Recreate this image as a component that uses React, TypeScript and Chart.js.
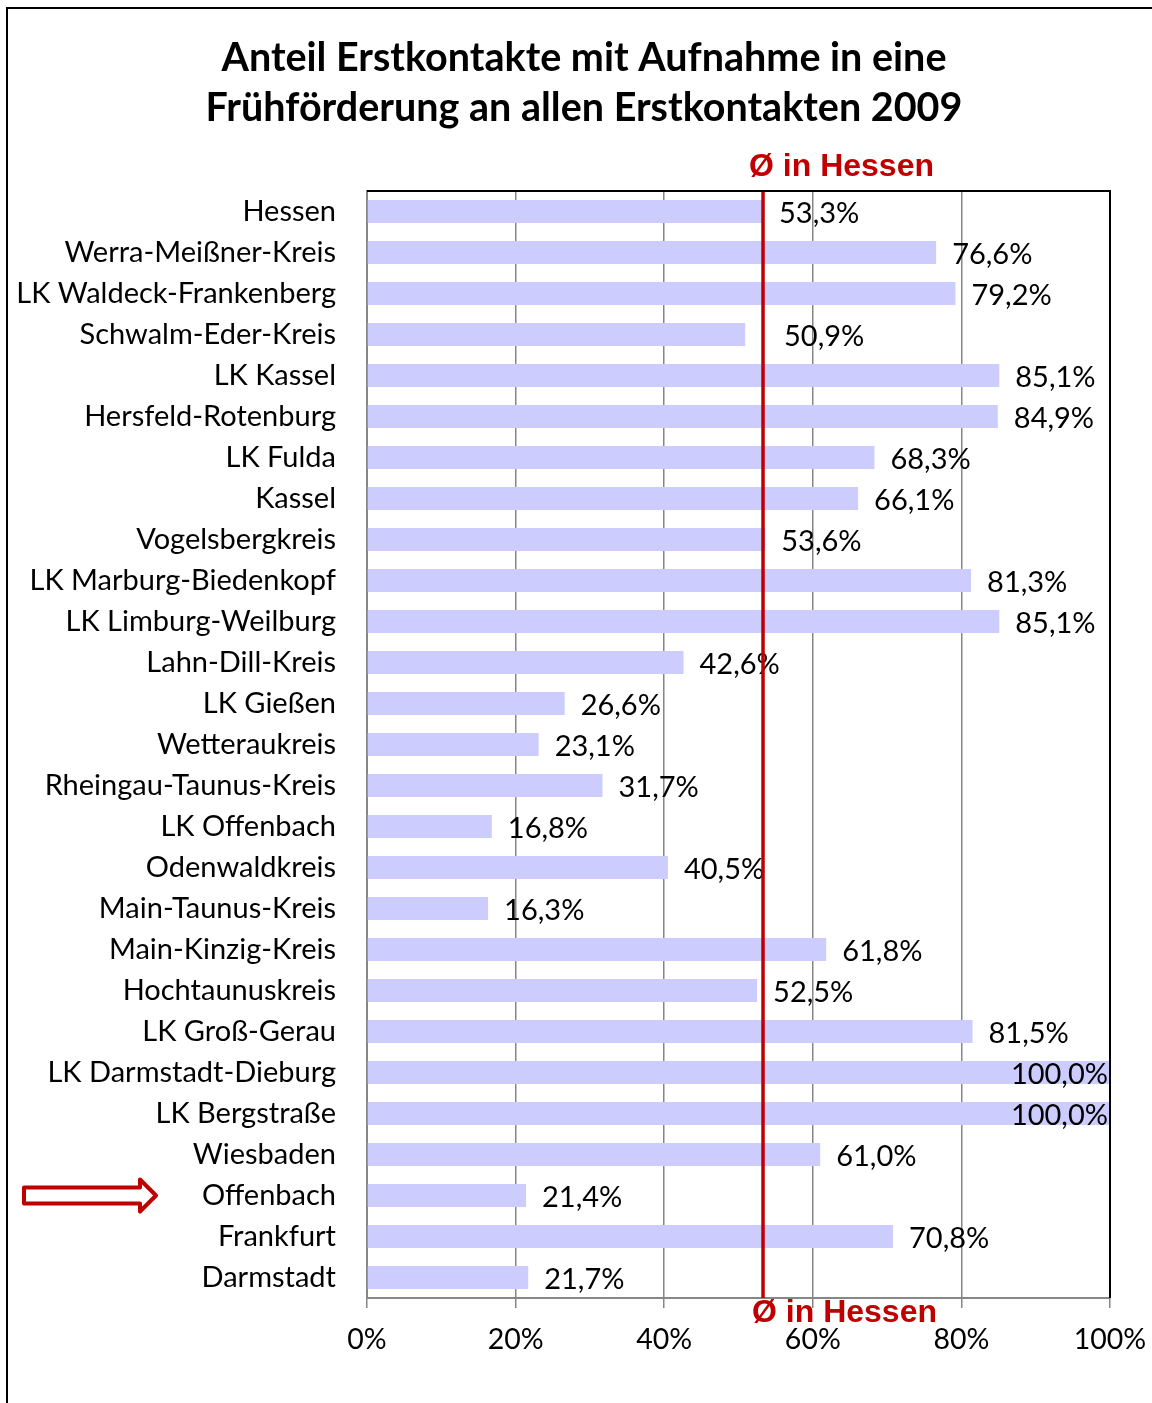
import React, { useEffect, useRef } from "react";
import { Chart, registerables } from "chart.js";

Chart.register(...registerables);

const categories: string[] = [
  "Hessen",
  "Werra-Meißner-Kreis",
  "LK Waldeck-Frankenberg",
  "Schwalm-Eder-Kreis",
  "LK Kassel",
  "Hersfeld-Rotenburg",
  "LK Fulda",
  "Kassel",
  "Vogelsbergkreis",
  "LK Marburg-Biedenkopf",
  "LK Limburg-Weilburg",
  "Lahn-Dill-Kreis",
  "LK Gießen",
  "Wetteraukreis",
  "Rheingau-Taunus-Kreis",
  "LK Offenbach",
  "Odenwaldkreis",
  "Main-Taunus-Kreis",
  "Main-Kinzig-Kreis",
  "Hochtaunuskreis",
  "LK Groß-Gerau",
  "LK Darmstadt-Dieburg",
  "LK Bergstraße",
  "Wiesbaden",
  "Offenbach",
  "Frankfurt",
  "Darmstadt",
];

const shares: number[] = [
  53.3, 76.6, 79.2, 50.9, 85.1, 84.9, 68.3, 66.1, 53.6, 81.3, 85.1, 42.6, 26.6,
  23.1, 31.7, 16.8, 40.5, 16.3, 61.8, 52.5, 81.5, 100.0, 100.0, 61.0, 21.4,
  70.8, 21.7,
];

const hessenAverage = 53.3;
const highlighted = "Offenbach";
const xTicks: number[] = [0, 20, 40, 60, 80, 100];
const titleLines: string[] = [
  "Anteil Erstkontakte mit Aufnahme in eine",
  "Frühförderung an allen Erstkontakten 2009",
];
const averageLabel = "Ø in Hessen";

const RED = "#c00000";
const GRID = "#868686";
const FONT = "Lato";

const fmt = (v: number) => v.toFixed(1).replace(".", ",") + "%";

const overlayPlugin = {
  id: "overlay",
  afterDatasetsDraw(chart: any) {
    const ctx = chart.ctx;
    const area = chart.chartArea;
    const xs = chart.scales.x;
    const meta = chart.getDatasetMeta(0);
    const lx = xs.getPixelForValue(hessenAverage);
    ctx.save();
    ctx.font = `29px ${FONT}`;
    ctx.fillStyle = "#000";
    ctx.textBaseline = "middle";
    meta.data.forEach((el: any, i: number) => {
      const v = shares[i];
      const txt = fmt(v);
      if (v >= 99.95) {
        ctx.textAlign = "right";
        ctx.fillText(txt, el.x - 2, el.y + 2);
      } else {
        ctx.textAlign = "left";
        let sx = el.x + 16;
        // keep labels of bars ending just before the average line clear of it
        if (el.x < lx && el.x > lx - 30 && sx < lx + 8) sx = lx + 21;
        ctx.fillText(txt, sx, el.y + 2);
      }
    });
    ctx.restore();
    ctx.save();
    ctx.strokeStyle = RED;
    ctx.lineWidth = 3.5;
    ctx.beginPath();
    ctx.moveTo(lx, area.top);
    ctx.lineTo(lx, area.bottom);
    ctx.stroke();
    ctx.restore();
  },
  afterDraw(chart: any) {
    const ctx = chart.ctx;
    const area = chart.chartArea;
    const xs = chart.scales.x;
    const ys = chart.scales.y;
    ctx.save();
    ctx.strokeStyle = "#000";
    ctx.lineWidth = 2;
    ctx.beginPath();
    ctx.moveTo(area.left, area.top);
    ctx.lineTo(area.right, area.top);
    ctx.lineTo(area.right, area.bottom);
    ctx.stroke();
    ctx.beginPath();
    ctx.moveTo(7, chart.height);
    ctx.lineTo(7, 8);
    ctx.lineTo(chart.width, 8);
    ctx.stroke();
    ctx.fillStyle = "#000";
    ctx.font = `bold 39.5px ${FONT}`;
    ctx.textAlign = "center";
    ctx.textBaseline = "alphabetic";
    ctx.fillText(titleLines[0], 584, 71);
    ctx.fillText(titleLines[1], 584, 121);
    const lx = xs.getPixelForValue(hessenAverage);
    ctx.fillStyle = RED;
    ctx.font = `bold 32px "Liberation Sans", Arial, sans-serif`;
    ctx.textAlign = "left";
    ctx.fillText(averageLabel, lx - 14, area.top - 15);
    ctx.fillText(averageLabel, lx - 11, area.bottom + 24);
    const idx = categories.indexOf(highlighted);
    const ay = ys.getPixelForValue(idx);
    const x0 = 24, xh = 140, xt = 156;
    ctx.beginPath();
    ctx.moveTo(x0, ay - 8);
    ctx.lineTo(xh, ay - 8);
    ctx.lineTo(xh, ay - 16);
    ctx.lineTo(xt, ay);
    ctx.lineTo(xh, ay + 16);
    ctx.lineTo(xh, ay + 8);
    ctx.lineTo(x0, ay + 8);
    ctx.closePath();
    ctx.fillStyle = "#fff";
    ctx.fill();
    ctx.strokeStyle = RED;
    ctx.lineWidth = 4;
    ctx.lineJoin = "round";
    ctx.stroke();
    ctx.restore();
  },
};

export default function App() {
  const ref = useRef<HTMLCanvasElement | null>(null);
  useEffect(() => {
    if (!ref.current) return;
    const chart = new Chart(ref.current, {
      type: "bar",
      data: {
        labels: categories,
        datasets: [
          {
            data: shares,
            backgroundColor: "#ccccff",
            borderWidth: 0,
            barPercentage: 0.56,
            categoryPercentage: 1,
          },
        ],
      },
      options: {
        indexAxis: "y",
        responsive: false,
        animation: false,
        devicePixelRatio: 1,
        layout: { padding: { top: 191, right: 42, left: 0, bottom: 0 } },
        plugins: {
          legend: { display: false },
          title: { display: false },
          tooltip: { enabled: false },
        },
        scales: {
          x: {
            type: "linear",
            min: 0,
            max: 100,
            afterBuildTicks: (s: any) => {
              s.ticks = xTicks.map((v) => ({ value: v }));
            },
            afterFit: (s: any) => {
              s.height = 105;
              s.paddingLeft = 0;
              s.paddingRight = 0;
            },
            grid: {
              color: GRID,
              lineWidth: 1.5,
              drawTicks: true,
              tickLength: 10,
            },
            border: { display: true, color: GRID, width: 2 },
            ticks: {
              callback: (v: any) => v + "%",
              font: { family: FONT, size: 28.5 },
              color: "#000",
              padding: 15,
            },
          },
          y: {
            type: "category",
            afterFit: (s: any) => {
              s.width = 367;
            },
            grid: { display: false, drawTicks: false },
            border: { display: true, color: GRID, width: 2 },
            ticks: {
              font: { family: FONT, size: 29 },
              color: "#000",
              padding: 31,
              autoSkip: false,
            },
          },
        },
      },
      plugins: [overlayPlugin],
    });
    return () => chart.destroy();
  }, []);
  return (
    <div style={{ position: "absolute", left: 0, top: 0, width: 1152, height: 1403, background: "#fff" }}>
      <canvas ref={ref} width={1152} height={1403} style={{ display: "block" }} />
    </div>
  );
}
